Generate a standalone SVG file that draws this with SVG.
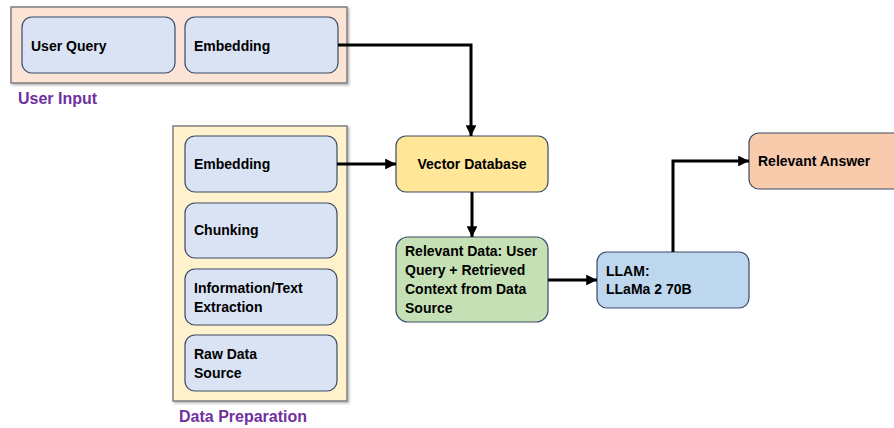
<svg xmlns="http://www.w3.org/2000/svg" width="894" height="428" viewBox="0 0 894 428">
<defs>
<filter id="sh" x="-5%" y="-5%" width="115%" height="115%"><feDropShadow dx="1.5" dy="1.5" stdDeviation="1" flood-color="#000" flood-opacity="0.3"/></filter>
<marker id="ah" viewBox="0 0 10 10" refX="10" refY="5" markerWidth="3.6" markerHeight="3.6" orient="auto" markerUnits="strokeWidth"><path d="M0,0 L10,5 L0,10 Z" fill="#000"/></marker>
</defs>
<style>
text{font-family:"Liberation Sans",Arial,sans-serif;font-weight:bold;font-size:14px;fill:#000}
.grp{stroke:#7f7f7f;stroke-width:1.5;filter:url(#sh)}
.box{stroke:#3a4a66;stroke-width:1.2}
.lbl{fill:#7030A0;font-size:16px}
.con{fill:none;stroke:#000;stroke-width:3;marker-end:url(#ah)}
</style>
<g id="user-input">
<rect class="grp" x="11" y="7" width="336" height="76" fill="#FBE3D6"/>
<text class="lbl" x="18" y="104">User Input</text>
</g>
<g id="user-query"><rect class="box" x="22" y="17" width="153" height="56" rx="10" fill="#DAE3F3"/><text x="31" y="51">User Query</text></g>
<g id="user-embedding"><rect class="box" x="185" y="17" width="153" height="56" rx="10" fill="#DAE3F3"/><text x="194" y="51">Embedding</text></g>
<g id="data-preparation">
<rect class="grp" x="173" y="126" width="174" height="275" fill="#FFF2CC"/>
<text class="lbl" x="179" y="422">Data Preparation</text>
</g>
<g id="dp-embedding"><rect class="box" x="185" y="136" width="152" height="56" rx="10" fill="#DAE3F3"/><text x="194" y="169">Embedding</text></g>
<g id="chunking"><rect class="box" x="185" y="203" width="152" height="55" rx="10" fill="#DAE3F3"/><text x="194" y="235">Chunking</text></g>
<g id="extraction"><rect class="box" x="185" y="269" width="152" height="56" rx="10" fill="#DAE3F3"/><text x="194" y="293">Information/Text</text><text x="194" y="312">Extraction</text></g>
<g id="raw-data"><rect class="box" x="185" y="335" width="152" height="56" rx="10" fill="#DAE3F3"/><text x="194" y="359">Raw Data</text><text x="194" y="378">Source</text></g>
<g id="vector-db"><rect class="box" x="396" y="136" width="152" height="56" rx="10" fill="#FFE699"/><text x="472" y="169" text-anchor="middle">Vector Database</text></g>
<g id="relevant-data"><rect class="box" x="396" y="237" width="152" height="85" rx="12" fill="#C5E0B4"/><text x="405" y="256">Relevant Data: User</text><text x="405" y="275">Query + Retrieved</text><text x="405" y="294">Context from Data</text><text x="405" y="313">Source</text></g>
<g id="llam"><rect class="box" x="597" y="252" width="152" height="56" rx="10" fill="#BDD7EE"/><text x="606" y="276">LLAM:</text><text x="606" y="294">LLaMa 2 70B</text></g>
<g id="answer"><rect class="box" x="749" y="133" width="160" height="56" rx="10" fill="#F8CBAD"/><text x="758" y="166">Relevant Answer</text></g>
<g id="connectors">
<path class="con" d="M338,45 H471 V136"/>
<path class="con" d="M337,164 H396"/>
<path class="con" d="M472,192 V237"/>
<path class="con" d="M548,280 H597"/>
<path class="con" d="M673,252 V161 H749"/>
</g>
</svg>
